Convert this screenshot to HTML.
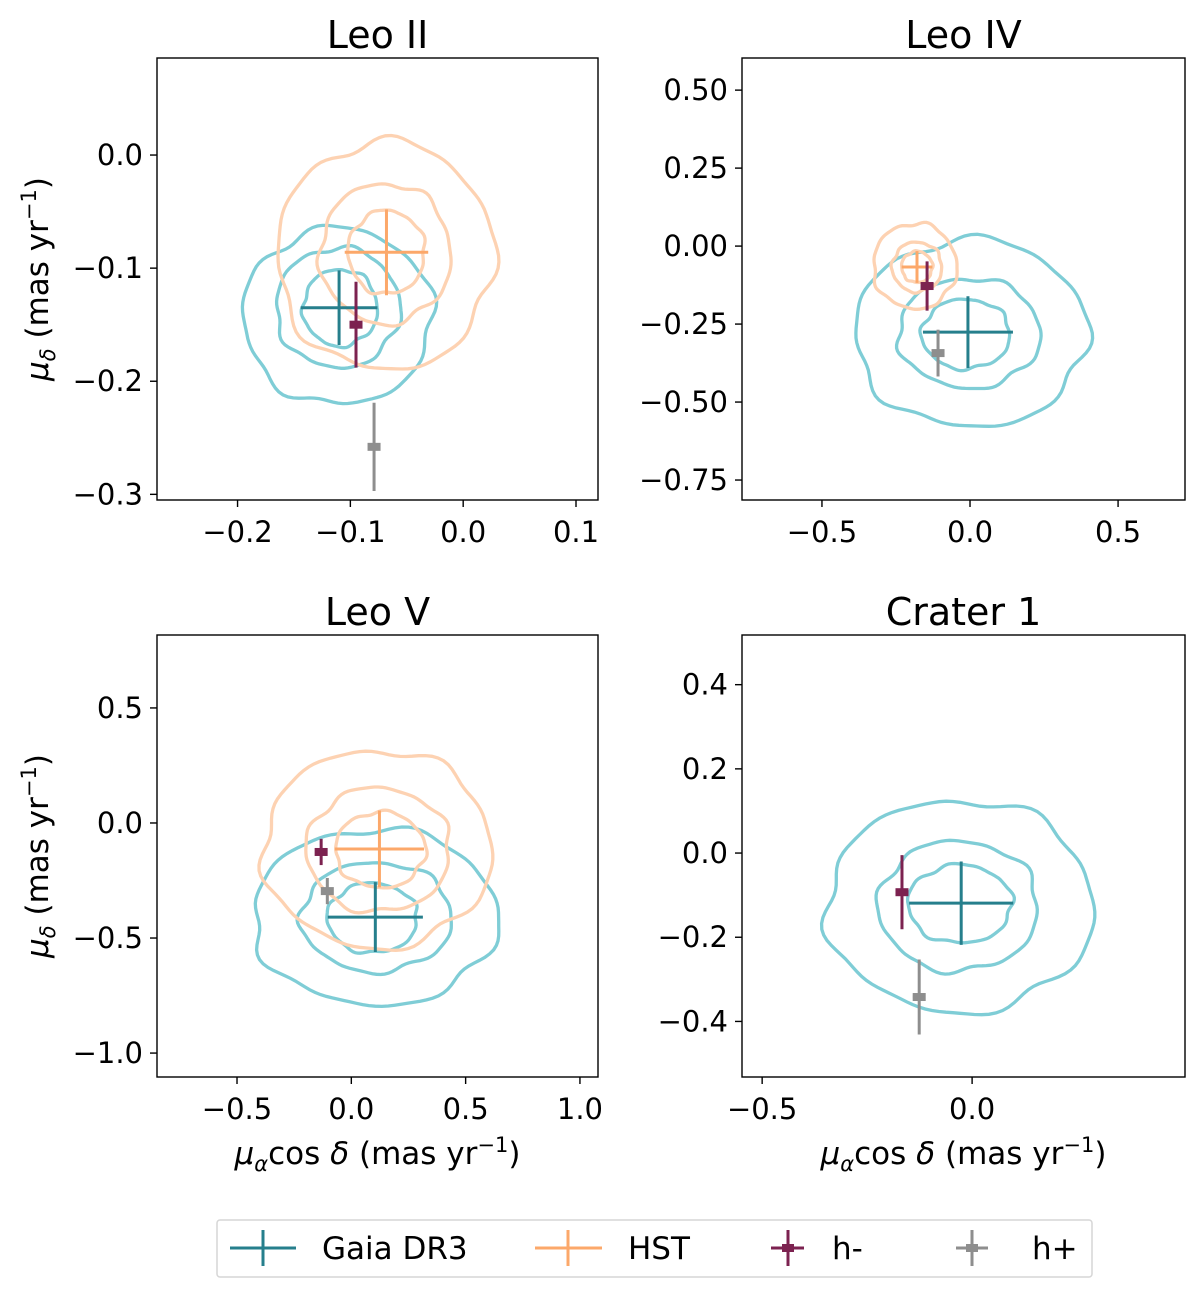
<!DOCTYPE html>
<html><head><meta charset="utf-8"><style>
body{margin:0;background:#fff;}
svg text{font-family:"DejaVu Sans","Liberation Sans",sans-serif;fill:#000;}
</style></head><body>
<svg id="fig" width="1200" height="1294" viewBox="0 0 1200 1294" xmlns="http://www.w3.org/2000/svg"></svg>
<script>
// ---- data ----
const panelTitles = ["Leo II","Leo IV","Leo V","Crater 1"];
const xTicks = [[-0.2,-0.1,0.0,0.1],[-0.5,0.0,0.5],[-0.5,0.0,0.5,1.0],[-0.5,0.0]];
const xTickLabels = [["−0.2","−0.1","0.0","0.1"],["−0.5","0.0","0.5"],["−0.5","0.0","0.5","1.0"],["−0.5","0.0"]];
const yTicks = [[0.0,-0.1,-0.2,-0.3],[0.5,0.25,0.0,-0.25,-0.5,-0.75],[0.5,0.0,-0.5,-1.0],[0.4,0.2,0.0,-0.2,-0.4]];
const yTickLabels = [["0.0","−0.1","−0.2","−0.3"],["0.50","0.25","0.00","−0.25","−0.50","−0.75"],["0.5","0.0","−0.5","−1.0"],["0.4","0.2","0.0","−0.2","−0.4"]];
const xLimits = [[-0.2714,0.1195],[-0.77,0.726],[-0.85,1.079],[-0.548,0.507]];
const yLimits = [[-0.305,0.0858],[-0.814,0.603],[-1.104,0.817],[-0.532,0.518]];
// contours: [cx, cy, rx, ry]
const gaiaContours = [
 [[-0.111,-0.1425,0.084,0.078],[-0.111,-0.135,0.055,0.053],[-0.109,-0.135,0.033,0.034]],
 [[0.003,-0.279,0.392,0.301],[-0.003,-0.279,0.24,0.176],[-0.014,-0.282,0.149,0.112]],
 [[0.105,-0.409,0.535,0.383],[0.11,-0.409,0.33,0.238],[0.092,-0.413,0.197,0.152]],
 [[-0.029,-0.126,0.318,0.252],[-0.033,-0.126,0.19,0.155],[-0.029,-0.121,0.124,0.093]]
];
const hstContours = [
 [[-0.069,-0.089,0.096,0.101],[-0.069,-0.087,0.058,0.062],[-0.068,-0.086,0.034,0.037]],
 [[-0.186,-0.064,0.141,0.137],[-0.179,-0.067,0.084,0.080],[-0.179,-0.067,0.052,0.050]],
 [[0.114,-0.113,0.5,0.43],[0.118,-0.117,0.314,0.27],[0.127,-0.117,0.197,0.165]],
 []
];
// points: [x, y, xerr, yerr]
const gaiaPoints = [[-0.110,-0.135,0.034,0.033],[-0.007,-0.276,0.152,0.115],[0.105,-0.409,0.208,0.152],[-0.026,-0.119,0.124,0.099]];
const hstPoints = [[-0.068,-0.086,0.037,0.038],[-0.179,-0.067,0.052,0.051],[0.123,-0.113,0.195,0.167],null];
const hMinusPoints = [[-0.095,-0.150,0.005,0.038],[-0.145,-0.128,0.02,0.079],[-0.132,-0.126,0.02,0.057],[-0.167,-0.093,0.015,0.088]];
const hPlusPoints = [[-0.079,-0.258,0.005,0.039],[-0.108,-0.343,0.02,0.075],[-0.105,-0.296,0.02,0.057],[-0.126,-0.342,0.015,0.089]];

// ---- layout ----
const boxes = [[157,58,598,500],[742,58,1185,500],[157,635,598,1077],[742,635,1185,1077]];
const C = {gaia:"#267f8c", gaiaC:"#7fcdd6", hst:"#fca86a", hstC:"#fdd2b2", hm:"#7c2250", hp:"#8e8e8e"};
const NS = "http://www.w3.org/2000/svg";
const svg = document.getElementById('fig');
function el(tag, attrs, parent){const e=document.createElementNS(NS,tag);for(const k in attrs)e.setAttribute(k,attrs[k]);(parent||svg).appendChild(e);return e;}

function wobble(t, seed){return 0.03*Math.sin(5*t+seed)+0.02*Math.sin(8*t+2*seed)+0.015*Math.sin(11*t+seed*3);}

boxes.forEach((b,i)=>{
  const [x0,y0,x1,y1]=b;
  const sx=v=>x0+(v-xLimits[i][0])/(xLimits[i][1]-xLimits[i][0])*(x1-x0);
  const sy=v=>y1-(v-yLimits[i][0])/(yLimits[i][1]-yLimits[i][0])*(y1-y0);
  const g=el('g',{});
  
  
  const clipId='clip'+i;
  const cp=el('clipPath',{id:clipId},g); el('rect',{x:x0,y:y0,width:x1-x0,height:y1-y0},cp);
  const plot=el('g',{'clip-path':'url(#'+clipId+')'},g);
  function contour(c,color,k,name){
    const [cx,cy,rx,ry]=c; let d='';
    for(let s=0;s<=120;s++){const t=s/120*2*Math.PI;const w=1+wobble(t,k+i);
      const px=sx(cx+rx*w*Math.cos(t)), py=sy(cy+ry*w*Math.sin(t)); d+=(s?'L':'M')+px.toFixed(1)+','+py.toFixed(1);}
    const p=el('path',{d:d+'Z',fill:'none',stroke:color,'stroke-width':3.3},plot);
    
    
  }
  gaiaContours[i].forEach((c,k)=>contour(c,C.gaiaC,k*1.7,'gaia-contour'));
  hstContours[i].forEach((c,k)=>contour(c,C.hstC,k*2.3+1,'hst-contour'));
  function errbar(p,color,name,marker){
    if(!p)return;
    const [x,y,xe,ye]=p;
    const gg=el('g',{stroke:color,'stroke-width':3},plot);
    
    
    el('line',{x1:sx(x-xe),x2:sx(x+xe),y1:sy(y),y2:sy(y)},gg);
    el('line',{x1:sx(x),x2:sx(x),y1:sy(y-ye),y2:sy(y+ye)},gg);
    if(marker) el('rect',{x:sx(x)-6.5,y:sy(y)-4,width:13,height:8,fill:color,stroke:'none'},gg);
  }
  errbar(gaiaPoints[i],C.gaia,'gaia-point',false);
  errbar(hstPoints[i],C.hst,'hst-point',false);
  errbar(hMinusPoints[i],C.hm,'h-minus-point',true);
  errbar(hPlusPoints[i],C.hp,'h-plus-point',true);
  const fr=el('rect',{x:x0,y:y0,width:x1-x0,height:y1-y0,fill:'none',stroke:'#000','stroke-width':1.4},g);
  
  
  xTicks[i].forEach((v,k)=>{
    el('line',{x1:sx(v),x2:sx(v),y1:y1,y2:y1+7,stroke:'#000','stroke-width':1.4},g);
    const t=el('text',{x:sx(v),y:y1+42,'text-anchor':'middle','font-size':29},g);
    t.textContent=xTickLabels[i][k];
    
    
  });
  yTicks[i].forEach((v,k)=>{
    el('line',{x1:x0-7,x2:x0,y1:sy(v),y2:sy(v),stroke:'#000','stroke-width':1.4},g);
    const t=el('text',{x:x0-14,y:sy(v)+10,'text-anchor':'end','font-size':29},g);
    t.textContent=yTickLabels[i][k];
    
    
  });
  const tt=el('text',{x:(x0+x1)/2,y:y0-10,'text-anchor':'middle','font-size':38},g);
  tt.textContent=panelTitles[i];
  
  
  if(i%2===0){
    const yl=el('text',{x:0,y:0,'text-anchor':'middle','font-size':31,transform:`translate(48,${(y0+y1)/2}) rotate(-90)`},g);
    yl.innerHTML='<tspan font-style="italic">μ</tspan><tspan font-style="italic" font-size="21" dy="7">δ</tspan><tspan dy="-7"> (mas yr</tspan><tspan font-size="21" dy="-12">−1</tspan><tspan dy="12">)</tspan>';
    
    
  }
  if(i>=2){
    const xl=el('text',{x:(x0+x1)/2,y:y1+87,'text-anchor':'middle','font-size':31},g);
    xl.innerHTML='<tspan font-style="italic">μ</tspan><tspan font-style="italic" font-size="21" dy="7">α</tspan><tspan dy="-7">cos</tspan><tspan font-style="italic"> δ</tspan><tspan> (mas yr</tspan><tspan font-size="21" dy="-12">−1</tspan><tspan dy="12">)</tspan>';
    
    
  }
});
</script>
<svg style="position:absolute;left:0;top:0" width="1200" height="1294">
 <g>
  <rect x="217" y="1220" width="875" height="57" fill="#fff" stroke="#d6d6d6" stroke-width="1.5" rx="3"/>
  <g stroke="#267f8c" stroke-width="3">
   <line x1="230" x2="296" y1="1248" y2="1248"/><line x1="263" x2="263" y1="1230" y2="1266"/>
  </g>
  <text x="322" y="1259" font-size="31" font-family="DejaVu Sans, Liberation Sans, sans-serif">Gaia DR3</text>
  <g stroke="#fca86a" stroke-width="3">
   <line x1="535" x2="602" y1="1248" y2="1248"/><line x1="568" x2="568" y1="1230" y2="1266"/>
  </g>
  <text x="628" y="1259" font-size="31" font-family="DejaVu Sans, Liberation Sans, sans-serif">HST</text>
  <g stroke="#7c2250" stroke-width="3">
   <line x1="771" x2="804" y1="1248" y2="1248"/><line x1="788" x2="788" y1="1230" y2="1266"/>
   <rect x="782" y="1244" width="12" height="8" fill="#7c2250" stroke="none"/>
  </g>
  <text x="832" y="1259" font-size="31" font-family="DejaVu Sans, Liberation Sans, sans-serif">h-</text>
  <g stroke="#8e8e8e" stroke-width="3">
   <line x1="956" x2="988" y1="1248" y2="1248"/><line x1="972" x2="972" y1="1230" y2="1266"/>
   <rect x="966" y="1244" width="12" height="8" fill="#8e8e8e" stroke="none"/>
  </g>
  <text x="1032" y="1259" font-size="31" font-family="DejaVu Sans, Liberation Sans, sans-serif">h+</text>
 </g>
</svg>
</body></html>
